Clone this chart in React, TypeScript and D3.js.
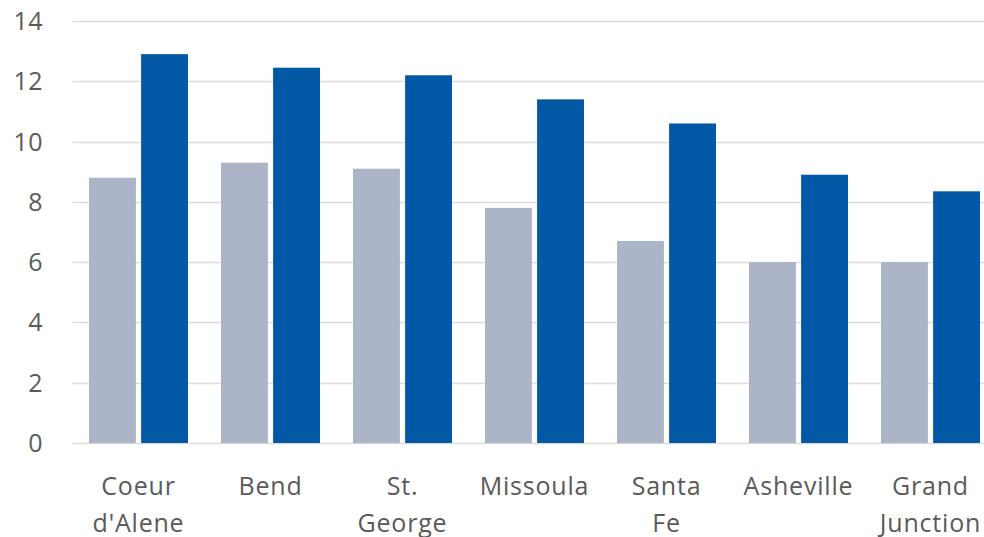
import React from "react";
import * as d3 from "d3";

const categories = ["Coeur d'Alene", "Bend", "St. George", "Missoula", "Santa Fe", "Asheville", "Grand Junction"];
const seriesA = [8.8, 9.3, 9.1, 7.8, 6.7, 6.0, 6.0];
const seriesB = [12.9, 12.45, 12.2, 11.4, 10.6, 8.9, 8.35];
const yTicks = [0, 2, 4, 6, 8, 10, 12, 14];

const W = 984;
const H = 537;
const FONT = "'Open Sans', sans-serif";

export default function App() {
  const left = 72.5;
  const step = 132;
  const x = d3
    .scaleBand<string>()
    .domain(categories)
    .range([left, left + step * categories.length])
    .paddingInner(0.25)
    .paddingOuter(0.125);
  const inner = d3.scaleBand<string>().domain(["a", "b"]).range([0, x.bandwidth()]).paddingInner(0.1);
  const y = d3.scaleLinear().domain([0, 14]).range([443, 21]);

  return (
    <svg width={W} height={H} style={{ position: "absolute", left: 0, top: 0, background: "#fff" }}>
      {yTicks.map((t) => (
        <g key={t}>
          <line x1={left} x2={W} y1={Math.round(y(t)) + 0.5} y2={Math.round(y(t)) + 0.5} stroke="#DCDCDC" strokeWidth={1.5} />
          <text x={43} y={y(t)} dy="0.36em" textAnchor="end" fontFamily={FONT} fontSize={25} fill="#5A5A5A" letterSpacing={0.5}>
            {t}
          </text>
        </g>
      ))}
      {categories.map((c, i) => (
        <g key={c}>
          <rect x={x(c)! + inner("a")!} width={inner.bandwidth()} y={y(seriesA[i])} height={y(0) - y(seriesA[i])} fill="#ABB5C7" />
          <rect x={x(c)! + inner("b")!} width={inner.bandwidth()} y={y(seriesB[i])} height={y(0) - y(seriesB[i])} fill="#0158A5" />
          {c.split(" ").map((line, j) => (
            <text key={j} x={x(c)! + x.bandwidth() / 2} y={495 + j * 37} textAnchor="middle" fontFamily={FONT} fontSize={25} letterSpacing={0.8} fill="#5A5A5A">
              {line}
            </text>
          ))}
        </g>
      ))}
    </svg>
  );
}
